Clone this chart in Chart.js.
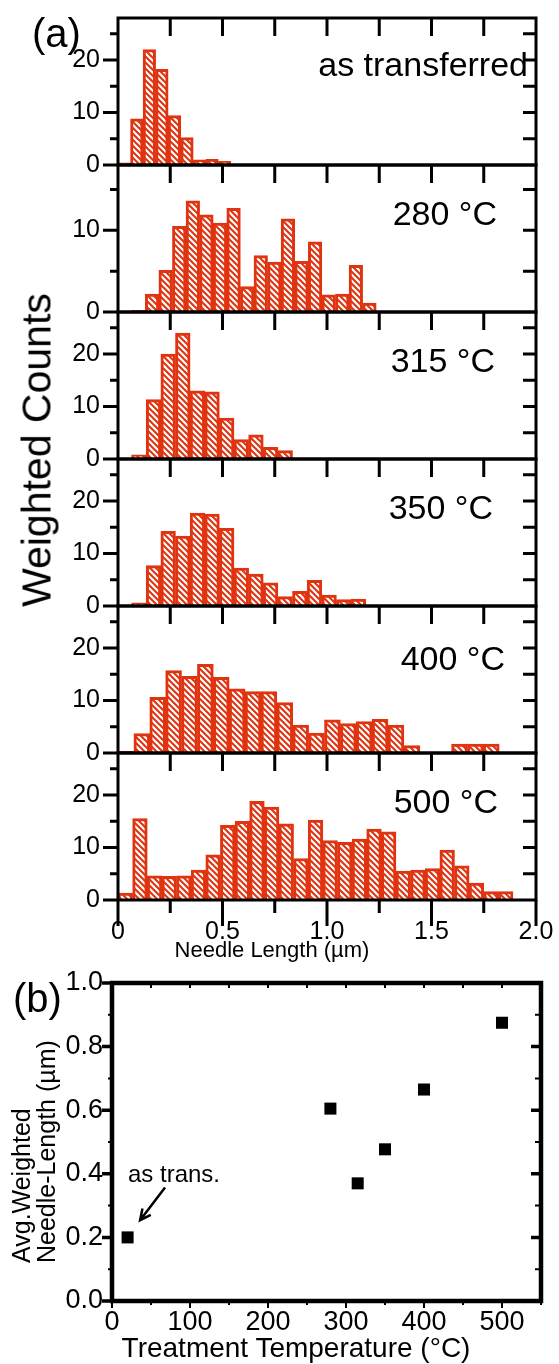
<!DOCTYPE html>
<html>
<head>
<meta charset="utf-8">
<script src="https://cdn.jsdelivr.net/npm/chart.js@4.4.1/dist/chart.umd.min.js"></script>
<style>
  body { margin: 0; background: #fff; }
  #page { position: relative; width: 559px; height: 1364px; overflow: hidden;
          font-family: 'Liberation Sans', Arial, sans-serif; color: #000; }
  canvas { position: absolute; left: 0; }
  .txt { position: absolute; white-space: nowrap; line-height: 1; }
</style>
</head>
<body>
<div id="page">
  <canvas id="h0" width="559" height="187" style="top:-2px"></canvas>
  <canvas id="h1" width="559" height="187" style="top:145px"></canvas>
  <canvas id="h2" width="559" height="187" style="top:292px"></canvas>
  <canvas id="h3" width="559" height="187" style="top:439px"></canvas>
  <canvas id="h4" width="559" height="187" style="top:586px"></canvas>
  <canvas id="h5" width="559" height="217" style="top:733px"></canvas>
  <canvas id="temp" width="559" height="414" style="top:950px"></canvas>

  <div class="txt" style="left:32px;top:13px;font-size:40px">(a)</div>
  <div class="txt" style="left:37px;top:450px;font-size:41px;transform:translate(-50%,-50%) rotate(-90deg)">Weighted Counts</div>
  <div class="txt" style="left:272px;top:939px;font-size:22px;transform:translateX(-50%)">Needle Length (µm)</div>

  <div class="txt" style="left:13px;top:978px;font-size:40px">(b)</div>
  <div class="txt" style="left:9px;top:1263px;font-size:25px;transform-origin:0 0;transform:rotate(-90deg)">Avg.Weighted<br>Needle-Length (µm)</div>
  <div class="txt" style="left:296px;top:1334px;font-size:28px;transform:translateX(-50%)">Treatment Temperature (°C)</div>
</div>
<script>
var RED = '#e0330f';
var FONT = "'Liberation Sans', Arial, sans-serif";

// (a) histograms: bin centres (µm) and weighted counts
var binsAsTransferred = [0.03, 0.09, 0.15, 0.21, 0.27, 0.33, 0.39, 0.45, 0.51];
var countsAsTransferred = [0.4, 8.8, 22, 18.2, 9.4, 5.2, 1.0, 1.1, 0.7];

var bins280 = [0.098, 0.163, 0.228, 0.293, 0.358, 0.423, 0.488, 0.553, 0.618,
               0.683, 0.748, 0.813, 0.878, 0.943, 1.008, 1.073, 1.138, 1.203];
var counts280 = [0.2, 2.2, 5.1, 10.5, 13.6, 11.9, 10.9, 12.7, 3.1,
                 6.9, 6.1, 11.4, 6.2, 8.6, 2.1, 2.2, 5.7, 1.1];

var bins315 = [0.10, 0.17, 0.24, 0.31, 0.38, 0.45, 0.52, 0.59, 0.66, 0.73, 0.80];
var counts315 = [0.8, 11.3, 20, 24, 13, 12.8, 7.8, 3.7, 4.6, 2.2, 1.6];

var bins350 = [0.10, 0.17, 0.24, 0.31, 0.38, 0.45, 0.52, 0.59, 0.66, 0.73, 0.80,
               0.87, 0.94, 1.01, 1.08, 1.15];
var counts350 = [0.6, 7.7, 14.2, 13.3, 17.7, 17.5, 14.8, 7.2, 6.1, 4.4, 1.8,
                 2.8, 4.9, 2.1, 1.2, 1.3];

var bins400 = [0.038, 0.114, 0.190, 0.266, 0.342, 0.418, 0.494, 0.570, 0.646, 0.722,
               0.798, 0.874, 0.950, 1.026, 1.102, 1.178, 1.254, 1.330, 1.406, 1.482,
               1.558, 1.634, 1.710, 1.786];
var counts400 = [0.3, 3.7, 10.6, 15.7, 14.6, 16.9, 14.4, 12.2, 11.7, 11.7,
                 9.6, 5.3, 3.8, 6.3, 5.6, 6.0, 6.4, 5.3, 1.4, 0,
                 0, 1.7, 1.7, 1.7];

var bins500 = [0.035, 0.105, 0.175, 0.245, 0.315, 0.385, 0.455, 0.525, 0.595, 0.665,
               0.735, 0.805, 0.875, 0.945, 1.015, 1.085, 1.155, 1.225, 1.295, 1.365,
               1.435, 1.505, 1.575, 1.645, 1.715, 1.785, 1.855];
var counts500 = [1.3, 15.5, 4.6, 4.5, 4.6, 5.7, 8.6, 14.2, 15.0, 18.8,
                 17.7, 14.5, 7.9, 15.2, 11.3, 11.0, 11.6, 13.5, 13.0, 5.5,
                 5.7, 6.0, 9.5, 6.5, 3.2, 1.6, 1.6];

var panelNames = ['as transferred', '280 °C', '315 °C', '350 °C', '400 °C', '500 °C'];
var countMax = [28, 18, 28, 28, 28, 28];
var lengthLabels = ['0', '0.5', '1.0', '1.5', '2.0'];

// (b) average weighted needle length vs treatment temperature
var temps = [20, 280, 315, 350, 400, 500];
var avgLength = [0.20, 0.605, 0.37, 0.477, 0.665, 0.875];
var tempLabels = ['0', '100', '200', '300', '400', '500'];
var avgLabels = ['0.0', '0.2', '0.4', '0.6', '0.8', '1.0'];

var panelBins = [binsAsTransferred, bins280, bins315, bins350, bins400, bins500];
var panelCounts = [countsAsTransferred, counts280, counts315, counts350, counts400, counts500];
var nameRight = [528, 497, 495, 493, 505, 498];
var nameDy = [58, 60, 60, 60, 64, 60];

Chart.defaults.font.family = FONT;
Chart.defaults.color = '#000';

function hatchPattern() {
    var c = document.createElement('canvas');
    c.width = 6; c.height = 6;
    var g = c.getContext('2d');
    g.fillStyle = RED;
    g.fillRect(0, 0, 6, 6);
    g.strokeStyle = '#fff';
    g.lineWidth = 2.2;
    g.beginPath();
    g.moveTo(-1, -1); g.lineTo(7, 7);
    g.moveTo(-1, 5); g.lineTo(1, 7);
    g.moveTo(5, -1); g.lineTo(7, 1);
    g.stroke();
    return g.createPattern(c, 'repeat');
}

function fixWidth(w) {
    return function (axis) { axis.width = w; axis.paddingTop = 0; axis.paddingBottom = 0; };
}
function fixHeight(h) {
    return function (axis) { axis.height = h; axis.paddingLeft = 0; axis.paddingRight = 0; };
}

var histFrame = {
    id: 'histFrame',
    afterDatasetsDraw: function (chart, args, opts) {
        var ctx = chart.ctx, a = chart.chartArea;
        var x = chart.scales.x, y = chart.scales.y;
        var v, k, px, py, len;
        ctx.save();
        ctx.strokeStyle = '#000';
        ctx.lineWidth = 3;
        ctx.beginPath();
        for (v = 0; v <= y.max; v += 5) {
            py = y.getPixelForValue(v);
            len = v % 10 === 0 ? 15 : 8;
            ctx.moveTo(a.left - len, py); ctx.lineTo(a.left, py);
            if (v > 0) { ctx.moveTo(a.right - 13, py); ctx.lineTo(a.right, py); }
        }
        for (k = 1; k < 8; k++) {
            px = x.getPixelForValue(k * 0.25);
            ctx.moveTo(px, a.top); ctx.lineTo(px, a.top + 18);
        }
        if (opts.bottomTicks) {
            for (k = 0; k <= 8; k++) {
                px = x.getPixelForValue(k * 0.25);
                len = k % 2 === 0 ? 26 : 13;
                ctx.moveTo(px, a.bottom); ctx.lineTo(px, a.bottom + len);
            }
        }
        ctx.stroke();
        ctx.strokeRect(a.left, a.top, a.right - a.left, a.bottom - a.top);

        ctx.fillStyle = '#000';
        ctx.font = '34px ' + FONT;
        ctx.textAlign = 'right';
        ctx.textBaseline = 'alphabetic';
        ctx.fillText(opts.name, opts.right, a.top + opts.dy);
        ctx.restore();
    }
};

var tempFrame = {
    id: 'tempFrame',
    afterDatasetsDraw: function (chart) {
        var ctx = chart.ctx, a = chart.chartArea;
        var x = chart.scales.x, y = chart.scales.y;
        var k, px, py, big;
        ctx.save();
        ctx.strokeStyle = '#000';
        ctx.fillStyle = '#000';
        for (k = 0; k <= 10; k++) {
            py = y.getPixelForValue(k / 10);
            big = k % 2 === 0;
            ctx.lineWidth = big ? 3.5 : 2;
            ctx.beginPath();
            ctx.moveTo(a.left - (big ? 10 : 4), py); ctx.lineTo(a.left, py);
            ctx.moveTo(a.right - (big ? 10 : 6), py); ctx.lineTo(a.right, py);
            ctx.stroke();
        }
        for (k = 0; k <= 11; k++) {
            px = x.getPixelForValue(k * 50);
            big = k % 2 === 0;
            ctx.lineWidth = 2;
            ctx.beginPath();
            ctx.moveTo(px, a.top); ctx.lineTo(px, a.top + 5);
            ctx.moveTo(px, a.bottom); ctx.lineTo(px, a.bottom + (big ? 7 : 4));
            ctx.stroke();
        }
        ctx.lineWidth = 4.5;
        ctx.strokeRect(a.left, a.top, a.right - a.left, a.bottom - a.top);

        // "as trans." note with an arrow toward the first point
        ctx.font = '24px ' + FONT;
        ctx.textAlign = 'left';
        ctx.textBaseline = 'alphabetic';
        ctx.fillText('as trans.', x.getPixelForValue(20.5), y.getPixelForValue(0.373));
        var x1 = x.getPixelForValue(68), y1 = y.getPixelForValue(0.357);
        var x2 = x.getPixelForValue(36), y2 = y.getPixelForValue(0.254);
        var ang = Math.atan2(y2 - y1, x2 - x1);
        ctx.lineWidth = 2.5;
        ctx.beginPath();
        ctx.moveTo(x1, y1); ctx.lineTo(x2, y2);
        ctx.moveTo(x2 - 12 * Math.cos(ang - 0.45), y2 - 12 * Math.sin(ang - 0.45));
        ctx.lineTo(x2, y2);
        ctx.lineTo(x2 - 12 * Math.cos(ang + 0.45), y2 - 12 * Math.sin(ang + 0.45));
        ctx.stroke();
        ctx.restore();
    }
};

var pattern = hatchPattern();

for (var i = 0; i < 6; i++) {
    var last = i === 5;
    var pts = panelBins[i].map(function (b, k) { return { x: b, y: panelCounts[i][k] }; });
    new Chart(document.getElementById('h' + i), {
        type: 'bar',
        data: {
            datasets: [{
                data: pts,
                backgroundColor: pattern,
                borderColor: RED,
                borderWidth: 3,
                categoryPercentage: 1,
                barPercentage: 1
            }]
        },
        options: {
            responsive: false,
            animation: false,
            devicePixelRatio: 1,
            layout: { padding: { top: 20, right: 23, bottom: last ? 0 : 20, left: 0 } },
            plugins: {
                legend: { display: false },
                tooltip: { enabled: false },
                histFrame: { name: panelNames[i], right: nameRight[i], dy: nameDy[i], bottomTicks: last }
            },
            scales: {
                x: {
                    type: 'linear', min: 0, max: 2, offset: false, display: last,
                    grid: { display: false, drawTicks: false },
                    border: { display: false },
                    ticks: {
                        stepSize: 0.5, padding: 17, font: { size: 25 },
                        callback: function (v, k) { return lengthLabels[k]; }
                    },
                    afterFit: fixHeight(last ? 50 : 0)
                },
                y: {
                    min: 0, max: countMax[i],
                    grid: { display: false, drawTicks: false },
                    border: { display: false },
                    ticks: {
                        stepSize: 5, includeBounds: false, padding: 18, font: { size: 25 },
                        callback: function (v) { return v % 10 === 0 ? String(v) : ''; }
                    },
                    afterFit: fixWidth(118)
                }
            }
        },
        plugins: [histFrame]
    });
}

new Chart(document.getElementById('temp'), {
    type: 'scatter',
    data: {
        datasets: [{
            data: temps.map(function (t, k) { return { x: t, y: avgLength[k] }; }),
            pointStyle: 'rect',
            pointRadius: 8.5,
            backgroundColor: '#000',
            borderWidth: 0
        }]
    },
    options: {
        responsive: false,
        animation: false,
        devicePixelRatio: 1,
        layout: { padding: { top: 33, right: 18, bottom: 0, left: 0 } },
        plugins: { legend: { display: false }, tooltip: { enabled: false } },
        scales: {
            x: {
                type: 'linear', min: 0, max: 550,
                grid: { display: false, drawTicks: false },
                border: { display: false },
                ticks: {
                    stepSize: 100, includeBounds: false, padding: 5, font: { size: 27 },
                    callback: function (v, k) { return tempLabels[k]; }
                },
                afterFit: fixHeight(63)
            },
            y: {
                min: 0, max: 1,
                grid: { display: false, drawTicks: false },
                border: { display: false },
                ticks: {
                    stepSize: 0.2, padding: 9, font: { size: 27 },
                    callback: function (v, k) { return avgLabels[k]; }
                },
                afterFit: fixWidth(112)
            }
        }
    },
    plugins: [tempFrame]
});
</script>
</body>
</html>
